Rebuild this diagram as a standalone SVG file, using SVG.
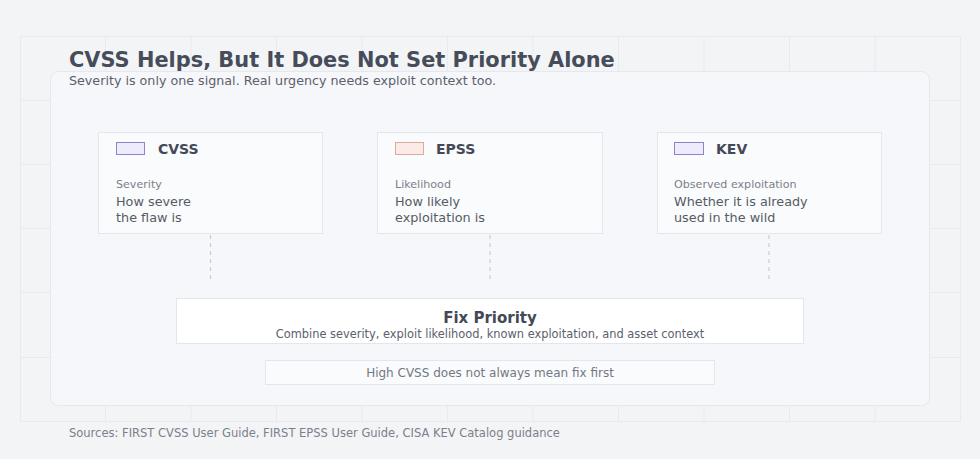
<svg xmlns="http://www.w3.org/2000/svg" width="980" height="459" viewBox="0 0 980 459">
<defs>
<style>
text{font-family:"DejaVu Sans","Liberation Sans",sans-serif}
.grid{stroke:#e8eaee;stroke-width:1;fill:none}
.card{fill:#fafbfc;stroke:#e3e6ec;stroke-width:1}
.ttl{font-size:14px;font-weight:bold;fill:#434956}
.lbl{font-size:11.1px;fill:#7b808c}
.desc{font-size:12.8px;fill:#555b66}
.conn{stroke:#c9cdd6;stroke-width:1.2;stroke-dasharray:4 4;fill:none}
</style>
</defs>
<rect x="0" y="0" width="980" height="459" fill="#f3f4f6"/>
<g id="grid">
<rect x="20.5" y="36.5" width="940" height="385" class="grid"/>
<path class="grid" d="M105.5 36V421M191 36V421M276.5 36V421M362 36V421M447.5 36V421M533 36V421M618.5 36V421M704 36V421M789.5 36V421M875 36V421M20 100.5H960M20 164.5H960M20 228.5H960M20 292.5H960M20 357.5H960"/>
</g>
<rect id="panel" x="50.5" y="71.5" width="879" height="334" rx="8" fill="#f6f7fa" stroke="#e6e8ed"/>
<text x="69" y="67" font-size="20.9" font-weight="bold" fill="#464c5a">CVSS Helps, But It Does Not Set Priority Alone</text>
<text x="69" y="85" font-size="12.7" fill="#5b606c">Severity is only one signal. Real urgency needs exploit context too.</text>
<g id="connectors">
<line class="conn" x1="210.5" y1="235" x2="210.5" y2="280"/>
<line class="conn" x1="490" y1="235" x2="490" y2="280"/>
<line class="conn" x1="769" y1="235" x2="769" y2="280"/>
</g>
<g id="cvss">
<rect class="card" x="98.5" y="132.5" width="224" height="101"/>
<rect x="116.5" y="142.5" width="28" height="12" fill="#eeecfc" stroke="#8d83cf"/>
<text class="ttl" x="158" y="154">CVSS</text>
<text class="lbl" x="116" y="188">Severity</text>
<text class="desc" x="116" y="206">How severe</text>
<text class="desc" x="116" y="222">the flaw is</text>
</g>
<g id="epss">
<rect class="card" x="377.5" y="132.5" width="225" height="101"/>
<rect x="395.5" y="142.5" width="28" height="12" fill="#fbeae5" stroke="#dcab9c"/>
<text class="ttl" x="436" y="154">EPSS</text>
<text class="lbl" x="395" y="188">Likelihood</text>
<text class="desc" x="395" y="206">How likely</text>
<text class="desc" x="395" y="222">exploitation is</text>
</g>
<g id="kev">
<rect class="card" x="657.5" y="132.5" width="224" height="101"/>
<rect x="674.5" y="142.5" width="29" height="12" fill="#eeecfc" stroke="#8d83cf"/>
<text class="ttl" x="716" y="154">KEV</text>
<text class="lbl" x="674" y="188">Observed exploitation</text>
<text class="desc" x="674" y="206">Whether it is already</text>
<text class="desc" x="674" y="222">used in the wild</text>
</g>
<g id="fix">
<rect x="176.5" y="298.5" width="627" height="45" fill="#ffffff" stroke="#e3e6ec"/>
<text x="490" y="323" text-anchor="middle" font-size="15" font-weight="bold" fill="#434956">Fix Priority</text>
<text x="490" y="338" text-anchor="middle" font-size="11.4" fill="#5b606c">Combine severity, exploit likelihood, known exploitation, and asset context</text>
</g>
<g id="note">
<rect x="265.5" y="360.5" width="449" height="24" fill="#fafbfc" stroke="#e3e6ec"/>
<text x="490" y="377" text-anchor="middle" font-size="12" fill="#737884">High CVSS does not always mean fix first</text>
</g>
<text x="69" y="437" font-size="11.5" fill="#7b808c">Sources: FIRST CVSS User Guide, FIRST EPSS User Guide, CISA KEV Catalog guidance</text>
</svg>
